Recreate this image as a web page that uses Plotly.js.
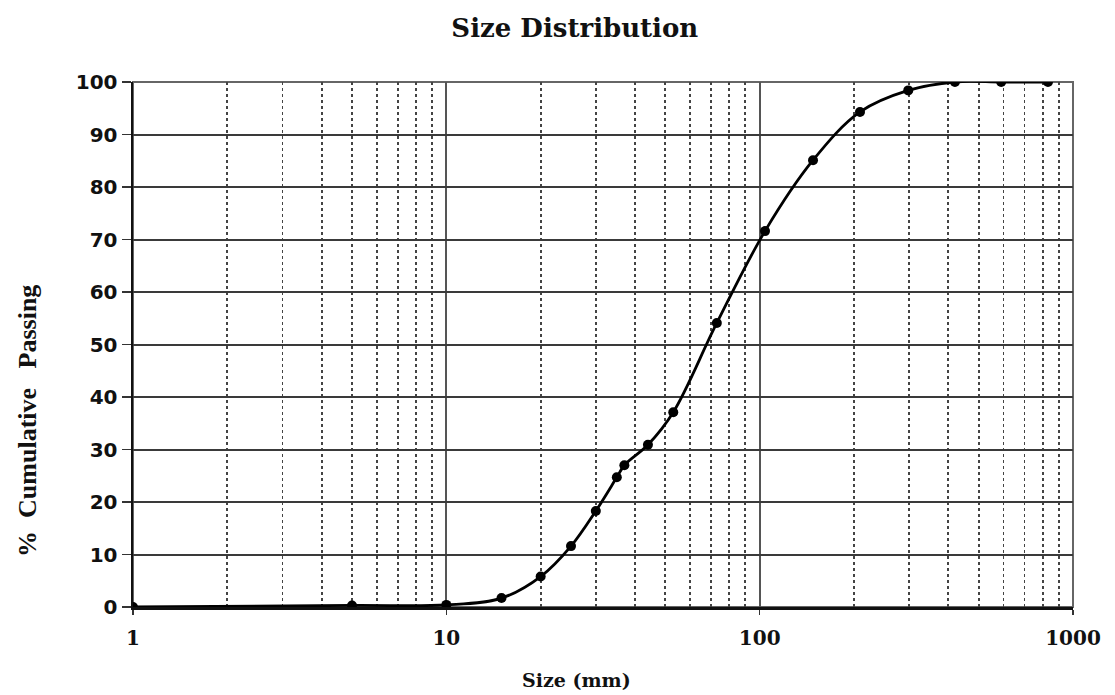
<!DOCTYPE html>
<html>
<head>
<meta charset="utf-8">
<script src="https://cdn.plot.ly/plotly-3.0.1.min.js"></script>
<style>
  html, body { margin: 0; padding: 0; background: #fff; }
  #chart { width: 1115px; height: 695px; }
</style>
</head>
<body>
<div id="chart"></div>
<script>
// Sieve sizes (mm) and cumulative percent passing
const sizeMm = [1, 5, 10, 15, 20, 25, 30, 35, 37, 44, 53, 73, 104, 148, 209, 298, 420, 590, 832];
const pctPassing = [0, 0.3, 0.4, 1.7, 5.8, 11.6, 18.3, 24.7, 27.0, 30.9, 37.1, 54.1, 71.6, 85.1, 94.3, 98.4, 100, 100, 100];

const xTickVals = [1, 10, 100, 1000];
const xTickText = ['1', '10', '100', '1000'];
const yTickVals = [0, 10, 20, 30, 40, 50, 60, 70, 80, 90, 100];

const NB = '\u00A0';

const trace = {
  x: sizeMm,
  y: pctPassing,
  type: 'scatter',
  mode: 'lines+markers',
  line: { color: '#000', width: 2.8, shape: 'spline', smoothing: 1 },
  marker: { color: '#000', size: 10 },
  hoverinfo: 'x+y',
  showlegend: false
};

const serif = 'DejaVu Serif, serif';

const layout = {
  width: 1115,
  height: 695,
  paper_bgcolor: '#fff',
  plot_bgcolor: '#fff',
  margin: { l: 133, r: 42, t: 82, b: 88 },
  title: {
    text: 'Size Distribution',
    font: { family: serif, size: 26, color: '#111', weight: 'bold' },
    x: 0.47, xref: 'paper', xanchor: 'center',
    y: 0.96, yref: 'container', yanchor: 'middle'
  },
  xaxis: {
    type: 'log',
    range: [0, 3],
    tickvals: xTickVals,
    ticktext: xTickText,
    tickfont: { family: serif, size: 20, color: '#111', weight: 'bold' },
    ticks: 'outside', ticklen: 5, tickcolor: '#333', tickwidth: 1.5,
    ticklabelstandoff: 6,
    showgrid: true, gridcolor: '#555', gridwidth: 2,
    minor: { dtick: 'D1', showgrid: true, gridcolor: '#444', gridwidth: 1.8, griddash: 'dot', ticks: '' },
    showline: true, linecolor: '#111', linewidth: 2.5, mirror: false,
    zeroline: false,
    fixedrange: true
  },
  yaxis: {
    range: [0, 100],
    tickvals: yTickVals,
    tickfont: { family: 'DejaVu Sans, Verdana, sans-serif', size: 20, color: '#111', weight: 'bold' },
    ticks: 'outside', ticklen: 9, tickcolor: '#333', tickwidth: 1.5,
    showgrid: true, gridcolor: '#3a3a3a', gridwidth: 2,
    showline: true, linecolor: '#111', linewidth: 2.5,
    zeroline: false,
    fixedrange: true
  },
  shapes: [
    // frame on the top and right edges of the plot area
    { type: 'rect', xref: 'paper', yref: 'paper', x0: 0, x1: 1, y0: 0, y1: 1,
      line: { color: '#666', width: 2 }, layer: 'below' }
  ],
  annotations: [
    { text: 'Size (mm)', xref: 'paper', yref: 'paper', x: 0.472, y: -0.139,
      xanchor: 'center', yanchor: 'middle', showarrow: false,
      font: { family: serif, size: 19, color: '#111', weight: 'bold' } },
    { text: '%' + NB + NB + 'Cumulative' + NB + NB + NB + 'Passing',
      xref: 'paper', yref: 'paper', x: -0.113, y: 0.354,
      xanchor: 'center', yanchor: 'middle', showarrow: false, textangle: -90,
      font: { family: 'Liberation Serif, serif', size: 26, color: '#111', weight: 'bold' } }
  ]
};

Plotly.newPlot('chart', [trace], layout, { displayModeBar: false, staticPlot: true });
</script>
</body>
</html>
